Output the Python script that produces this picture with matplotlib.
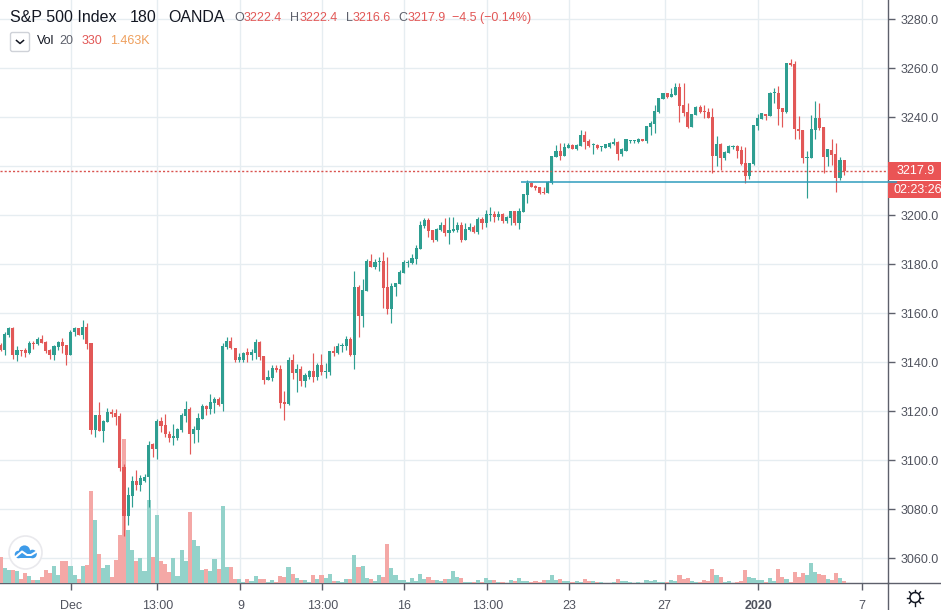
import matplotlib
matplotlib.use("Agg")
import matplotlib.pyplot as plt
from matplotlib.patches import Circle, Rectangle, FancyBboxPatch, Polygon
import numpy as np

opens = [3147,3145,3151,3154,3143,3145,3145,3143.7,3148,3147.5,
3149.5,3148.3,3145,3143,3146.4,3148.3,3147,3143,3152.4,3154,
3151.2,3154.3,3148,3112.4,3118.5,3112.1,3115.8,3119.7,3119.3,3118,
3097.4,3077.3,3085.4,3091.6,3090,3091.7,3093,3106.5,3104.6,3116,
3114.4,3110.7,3109,3109.3,3112.4,3118.1,3121,3110.7,3112.4,3116.7,
3122.2,3120.8,3123.3,3125,3123,3146.1,3148.6,3146,3141,3141,
3144.2,3143,3144,3148.2,3142.6,3132.8,3133.5,3137.5,3137.1,3123.8,
3123,3140.8,3135.5,3137.2,3132.4,3134.2,3136.3,3134.2,3139,3136.1,
3136.1,3144.5,3143.6,3146.5,3146.7,3149.5,3143,3170.7,3158.9,3169.3,
3181.4,3178.8,3180.8,3181.4,3170.8,3161.8,3170.9,3172,3176.6,3180.7,
3180.4,3182.2,3186.3,3195.6,3198,3194,3190,3193.8,3196,3192.9,
3193.7,3194,3196,3190,3194,3195.2,3193,3198.5,3196.9,3200.1,
3200.7,3199.5,3200.7,3197.8,3198.8,3201.8,3196.9,3201.4,3208.3,3213,
3212,3211.4,3209.5,3209,3213,3223.7,3226.3,3224.2,3227.5,3228.7,
3227,3228.4,3232.8,3230.3,3228.6,3228.7,3227.8,3227.6,3228,3229.1,
3230,3225,3226.3,3230.3,3230.3,3230,3231.3,3230.2,3236.2,3237.1,
3242.2,3247.3,3249.9,3248.2,3249.1,3252.5,3245,3242.2,3236.2,3241,
3244.4,3242.6,3242.2,3240.1,3224.2,3229.1,3223.4,3225.5,3228,3228.3,
3226.7,3221.2,3216,3221,3236.5,3239.3,3241.4,3240.7,3249.8,3250.1,
3243.8,3242,3262,3261.8,3235.4,3234.8,3223.3,3223.3,3234.8,3239.7,
3236,3223.7,3226.7,3225,3215.2,3222.4]

highs = [3148,3152.5,3154.5,3154.5,3146.5,3145,3145.7,3148.6,3148.6,3150.2,
3151,3148.6,3145.4,3147,3148.6,3149.8,3147,3153.2,3154.3,3154,
3157.3,3156,3148,3118.5,3124,3116.5,3121.2,3121,3120.8,3119.2,
3098.5,3089.3,3093.6,3096,3094,3094.4,3108,3107.2,3117,3117.6,
3119,3112,3114.8,3113,3119.2,3124.2,3121.6,3114,3119.2,3123,
3122.6,3127,3125.7,3125.7,3147.8,3150.5,3150.2,3146,3143.7,3144.4,
3146,3145.5,3149.5,3148.5,3142.6,3137,3139,3138.9,3138.9,3128.4,
3142,3143.4,3139.3,3138.5,3135.5,3136.8,3143.8,3139.9,3143.4,3139.6,
3144.5,3146.7,3147.8,3147.8,3150.7,3150.2,3177.3,3171.6,3174,3182,
3184.2,3182,3182.9,3185,3182.9,3172.2,3172.2,3177.7,3181.8,3181.8,
3184.2,3187.9,3197.8,3199,3199,3194,3195,3197.4,3199,3199.2,
3199.2,3197.4,3197.1,3196.7,3196.7,3196,3199.5,3199.5,3202.2,3203.4,
3201.9,3201.8,3201.1,3199.7,3201.8,3201.8,3202.9,3208.7,3214.4,3213.7,
3212.4,3211.7,3211.7,3214,3224.2,3228.7,3229.4,3229.4,3229.4,3229,
3229.1,3234.8,3234.6,3231,3229.4,3229.1,3228.4,3229,3230.1,3231.4,
3230.5,3227.3,3231,3230.6,3230.6,3231.7,3231.3,3236.6,3238.3,3245,
3247.9,3249.9,3249.9,3251.8,3253.9,3254.1,3253.9,3246,3241.4,3244.6,
3245,3245,3243.7,3243.7,3232.4,3229.4,3226.3,3228.7,3228.7,3228.6,
3228.3,3227.8,3221.5,3236.9,3241.2,3241.6,3241.4,3250.5,3251.8,3252.8,
3243.8,3262,3263.7,3263,3240.5,3234.8,3226.3,3241,3246.7,3245.7,
3236,3227.2,3231,3229.7,3223.7,3222.4]

lows = [3144.5,3143,3150.5,3141.5,3140.5,3142.5,3142,3143.4,3145.4,3147.2,
3147.8,3143.7,3141.4,3141,3145,3143.7,3139,3143,3150.7,3151.2,
3149.4,3145.4,3110.7,3109.7,3112.1,3107.6,3115.8,3117.8,3114.4,3095.8,
3069.3,3073.6,3081,3088,3087.6,3091.3,3081,3101.5,3100.5,3111.7,
3109.7,3107.6,3106.4,3108.3,3111.7,3115.8,3102.6,3107.2,3107.6,3116.7,
3118.5,3119,3119.2,3122.2,3120.3,3145.3,3145.3,3140,3140,3140.3,
3140.2,3141,3141.5,3141,3131.2,3132.8,3132.5,3136.2,3121.4,3116.4,
3122.6,3133.2,3127.9,3130.3,3130,3133.2,3131.8,3132.8,3134.8,3133.5,
3134.8,3142.7,3143.3,3144.4,3145,3142.6,3137.3,3150.5,3154.6,3169.3,
3178.8,3178,3177.3,3162,3159.7,3156.2,3167.2,3172,3176.6,3178.8,
3180,3180.1,3186.3,3194.7,3191.3,3189.3,3189.7,3193.7,3191.6,3188.2,
3193.3,3193.3,3189.3,3190,3193.7,3192.7,3192.4,3194.4,3195.4,3197.8,
3197.1,3198.1,3196.7,3197,3196,3196,3194.4,3201.4,3205.2,3211.4,
3210.3,3208.7,3208.6,3209,3212.8,3223.7,3222.6,3224.2,3227.5,3227.2,
3226.7,3228.3,3227,3227.8,3225,3227,3226.4,3227.6,3227.6,3228.7,
3222.6,3224.2,3226.3,3229.4,3229.7,3229.7,3230.3,3229.7,3232.8,3233.7,
3241.9,3247.3,3247.9,3248.2,3249.1,3238.2,3240.7,3235.5,3235.9,3241,
3241.6,3239.9,3239.6,3217.4,3220.1,3218.5,3222.6,3225.3,3227,3223.3,
3220.5,3213.3,3214.7,3220.5,3234.8,3239.3,3238.9,3240.7,3245.7,3236.9,
3236.2,3241.6,3261,3231.3,3231,3221.2,3207.2,3223.3,3231,3234.8,
3217.4,3220.1,3220.5,3209.6,3214.4,3216.6]

closes = [3145,3151.5,3154,3143,3145,3144.5,3144,3148,3147.6,3149.7,
3148,3144.8,3143,3146.7,3148.3,3146.7,3143,3152.4,3154,3151.2,
3154.3,3147.5,3112.4,3118.5,3112.1,3116.2,3119.7,3119,3117.8,3097,
3077.3,3085.8,3091.6,3090,3092.7,3093.2,3106.3,3104.8,3116,3114,
3110.6,3109,3110,3112.7,3118.6,3121,3110.7,3112.7,3117.3,3122.2,
3121,3123.8,3125.2,3122.6,3146.7,3148.6,3145.9,3141,3142,3144,
3143,3144.2,3148.2,3142.3,3132.8,3134,3137.5,3136.9,3123.5,3123,
3140.8,3135.5,3137.3,3132.4,3134.8,3136.4,3134.2,3139,3136.1,3136.4,
3144.5,3143.7,3146.7,3147,3149.5,3143,3170.7,3158.9,3169.5,3181.4,
3179,3180.8,3181.4,3170.5,3161.8,3171.2,3172.2,3176.9,3181,3181,
3182.5,3186.5,3196,3198,3193.7,3190,3194.4,3196,3192.7,3194,
3194.4,3196,3190,3194.4,3195.4,3193,3198.5,3196.9,3200.5,3200.5,
3199.5,3200.5,3197.8,3199.3,3201.8,3196.9,3201.8,3208.7,3213.3,3211.4,
3211,3209,3209,3213.6,3224.2,3226.3,3224.2,3227.8,3228.8,3227.2,
3228.8,3232.8,3230,3228.3,3228.8,3227.6,3228,3229,3229.7,3230,
3225,3226.9,3231,3230.6,3230.6,3231.2,3230.3,3236.6,3237.6,3242.6,
3247.9,3249.9,3248.2,3249.7,3252.5,3244.8,3241.6,3235.9,3241.4,3244.4,
3242.3,3242,3239.9,3224.2,3229.1,3223.4,3225.9,3228.3,3228.3,3226.3,
3220.8,3216,3221.2,3236.9,3239.6,3241.6,3240.7,3250.1,3250.1,3243.4,
3242,3262,3261.2,3235.1,3234.4,3223.3,3223.8,3235.2,3239.7,3235.5,
3223.7,3226.9,3224.6,3215.2,3222.6,3217.9]

# relative volume (last bar corresponds to the header's 330)
volume = [78,46,40,40,37,12,30,22,10,8,
18,40,30,50,25,67,65,50,25,12,
50,55,275,188,88,45,55,18,70,145,
432,160,100,65,75,35,250,78,205,67,
58,33,75,22,100,65,212,130,112,38,
42,37,72,42,232,48,48,12,12,3,
12,6,20,12,12,4,10,3,22,18,
48,27,15,10,10,3,25,12,25,15,
28,6,6,3,12,12,85,48,52,15,
12,6,25,18,118,45,25,10,10,3,
15,6,28,12,18,10,10,6,12,12,
36,18,15,3,3,3,8,3,15,8,
9,3,3,1,9,6,15,6,6,3,
6,3,9,9,24,9,12,6,6,3,
6,3,12,6,5,3,3,1,1,4,
12,6,6,3,1,3,1,9,6,9,
3,3,3,9,6,24,12,15,6,3,
3,9,6,42,24,18,3,6,1,3,
6,39,18,15,9,9,3,15,6,42,
18,12,3,33,18,30,24,60,33,27,
24,12,9,30,15,6]

tick_pos = [17.2, 38.1, 58.3, 78.2, 98.1, 118.3, 138.2, 161.4, 184.2, 209.3]
tick_labels = ["Dec", "13:00", "9", "13:00", "16", "13:00", "23", "27", "2020", "7"]
price_ticks = [3060, 3080, 3100, 3120, 3140, 3160, 3180, 3200, 3220, 3240, 3260, 3280]
last_price = 3217.9
trend_price = 3213.5
trend_start = 126.5

UP, DOWN = "#2e9e91", "#e25857"
VUP, VDOWN = "#93d2ca", "#f4a8a6"
GRID = "#e6edf1"
AXC = "#5d606b"
TXT = "#50535e"
W, H = 941, 610
PW, PH = 888, 583

plt.rcParams["font.family"] = ["Liberation Sans", "DejaVu Sans"]
fig = plt.figure(figsize=(W / 100, H / 100), dpi=100, facecolor="white")
rect = [0, (H - PH) / H, PW / W, PH / H]

step = 4.115
xlim = (-0.5 / step, (PW - 0.5) / step)
ylim = (3260 - (PH - 68.3) / 2.45, 3260 + 68.3 / 2.45)

ax = fig.add_axes(rect, zorder=1)
ax.set_xlim(xlim); ax.set_ylim(ylim)
ax.yaxis.tick_right()
ax.set_yticks(price_ticks)
ax.set_yticklabels([f"{p:.1f}" for p in price_ticks], fontsize=9, color=TXT)
ax.set_xticks(tick_pos)
ax.set_xticklabels(tick_labels, fontsize=9, color=TXT)
ax.get_xticklabels()[8].set_fontweight("bold")
ax.tick_params(axis="both", length=5, width=1, color=AXC, pad=4)
ax.tick_params(axis="x", pad=7)
ax.grid(True, color=GRID, lw=1)
ax.set_axisbelow(True)
for s in ("top", "left"):
    ax.spines[s].set_visible(False)
for s in ("right", "bottom"):
    ax.spines[s].set_color(AXC)
    ax.spines[s].set_linewidth(1)

x = np.arange(len(closes))
o, h, l, c = map(np.array, (opens, highs, lows, closes))
up = c >= o

axv = fig.add_axes(rect, zorder=2, sharex=ax)
axv.patch.set_visible(False)
axv.axis("off")
axv.set_ylim(0, PH * 3)
axv.bar(x, volume, width=1.0, color=[VUP if u else VDOWN for u in up], linewidth=0)

axc = fig.add_axes(rect, zorder=3, sharex=ax)
axc.patch.set_visible(False)
axc.axis("off")
axc.set_ylim(ylim)
cols = [UP if u else DOWN for u in up]
axc.axhline(last_price, color="#d9534f", lw=1, ls=(0, (1.5, 1.5)))
axc.vlines(x, l, h, colors=cols, lw=0.85)
bot = np.minimum(o, c)
ht = np.maximum(np.abs(c - o), 0.35)
axc.bar(x, ht, bottom=bot, width=3.1 / step, color=cols, linewidth=0)
axc.hlines(trend_price, trend_start, xlim[1], colors="#2f9dbd", lw=1.1)

# overlay in picture pixels: header, price labels, logo, settings icon
ov = fig.add_axes([0, 0, 1, 1], zorder=4)
ov.set_xlim(0, W); ov.set_ylim(H, 0)
ov.patch.set_visible(False)
ov.axis("off")

def t(px, py, s, color="#131722", size=9, **kw):
    ov.text(px, py, s, color=color, fontsize=size, va="center", ha=kw.pop("ha", "left"), **kw)

ov.add_line(plt.Line2D([PW, W], [PH, PH], color=AXC, lw=1))
ov.add_line(plt.Line2D([PW, PW], [PH, H], color=AXC, lw=1))

t(10, 17.5, "S&P 500 Index", size=11.5)
t(130, 17.5, "180", size=11.5)
t(168, 17.5, "OANDA", size=11.5)
for px, lab, val in [(234, "O", "3222.4"), (290, "H", "3222.4"), (346, "L", "3216.6"), (398, "C", "3217.9")]:
    t(px, 18, lab, color="#5d606b")
    vx = px + (10 if lab in "OHC" else 7)
    t(vx, 18, val, color=DOWN)
t(452.5, 18, "\u22124.5 (\u22120.14%)", color=DOWN)

ov.add_patch(FancyBboxPatch((10.5, 32.5), 19, 19, boxstyle="round,pad=0,rounding_size=2",
                            fc="white", ec="#cfd2d8", lw=1))
ov.add_line(plt.Line2D([16.5, 20, 23.5], [40.5, 43.5, 40.5], color="#131722", lw=1.1))
t(37, 41.5, "Vol", color="#131722")
t(59, 41.5, "20", color="#5d606b")
t(82, 41.5, "330", color=DOWN)
t(110, 41.5, "1.463K", color="#ee9f5c")

ov.add_patch(Rectangle((PW, 162), W - PW, 18.3, fc="#ea5455", ec="none"))
ov.add_patch(Rectangle((PW, 181.3), W - PW, 17, fc="#ea5455", ec="none"))
ov.add_patch(Rectangle((PW, 181), 9, 2.3, fc="#5a8aa6", ec="none"))
t(897, 171, "3217.9", color="white")
t(893.5, 190, "02:23:26", color="white")

ov.add_patch(Circle((25.5, 552.5), 16.5, fc="white", ec="#e8e8ec", lw=1.2, alpha=0.95))
cloud = Circle((24.5, 551), 5.6, fc="#3d9be9", ec="none")
ov.add_patch(cloud)
ov.add_patch(Circle((18.5, 554.5), 3.8, fc="#3d9be9", ec="none"))
ov.add_patch(Circle((32.5, 554), 4.3, fc="#3d9be9", ec="none"))
ov.add_patch(Rectangle((18, 553), 15, 5.2, fc="#3d9be9", ec="none"))
ov.add_line(plt.Line2D([15.5, 22, 27, 31, 36], [557, 551.5, 555, 555, 552], color="white", lw=1.5))

ov.add_patch(Circle((915, 597.5), 5, fc="white", ec="#131722", lw=1.1))
for a in np.arange(0, 360, 45):
    ca, sa = np.cos(np.radians(a)), np.sin(np.radians(a))
    ov.add_line(plt.Line2D([915 + 5.5 * ca, 915 + 8 * ca], [597.5 + 5.5 * sa, 597.5 + 8 * sa],
                           color="#131722", lw=1))

fig.savefig("out.png", dpi=100, facecolor="white")
